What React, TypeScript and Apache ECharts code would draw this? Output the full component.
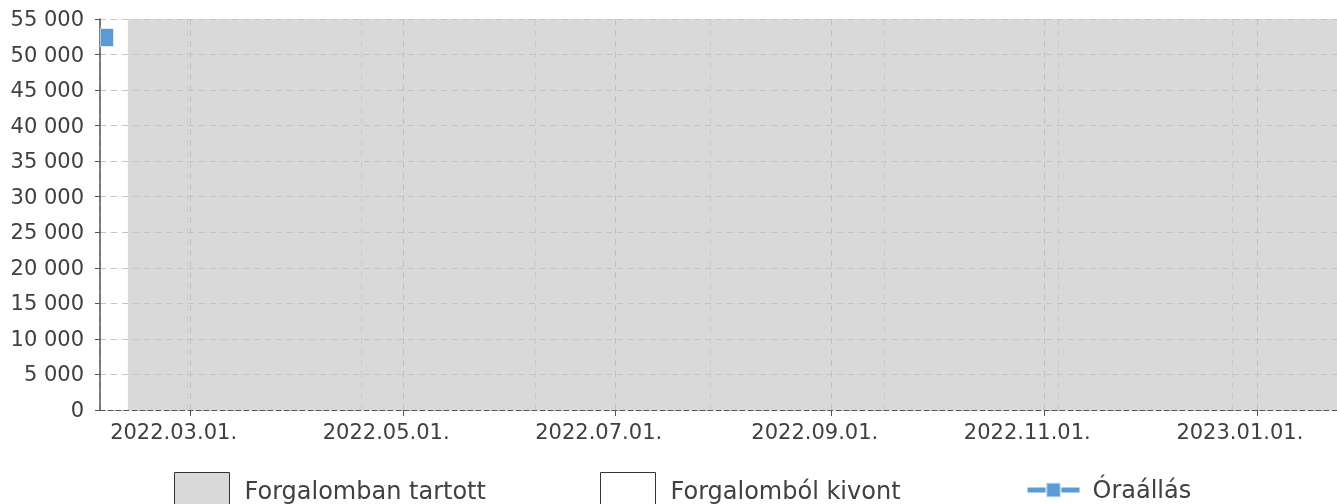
import React, { useEffect, useRef } from "react";
import * as echarts from "echarts";

// ---- data ----
const xRange = ["2022-02-03", "2023-01-24"];
const inServicePeriod = ["2022-02-11", "2023-01-24"];
const inServiceLevel = 55000;
const odometerDates = ["2022-02-05"];
const odometerValues = [52400];
const faintGridDates = ["2022-02-28", "2022-04-19", "2022-06-08", "2022-07-28", "2022-09-16", "2022-11-05", "2022-12-25"];
const yTicks = { min: 0, max: 55000, interval: 5000 };
const legendNames = ["Forgalomban tartott", "Forgalomból kivont", "Óraállás"];

const FONT = "DejaVu Sans";
const TEXT = "#404040";

function fmtDate(v: number) {
  const d = new Date(v);
  const p = (n: number) => String(n).padStart(2, "0");
  return `${d.getFullYear()}.${p(d.getMonth() + 1)}.${p(d.getDate())}.`;
}
function fmtNum(v: number) {
  return String(v).replace(/\B(?=(\d{3})+(?!\d))/g, " ");
}

export default function App() {
  const ref = useRef<HTMLDivElement>(null);
  useEffect(() => {
    if (!ref.current) return;
    const chart = echarts.init(ref.current, null, { renderer: "svg" });
    const DAY = 86400000;
    chart.setOption({
      animation: false,
      grid: { left: 100, right: 0, top: 19, bottom: 94, containLabel: false },
      xAxis: {
        type: "time",
        min: xRange[0],
        max: xRange[1],
        minInterval: 65 * DAY,
        maxInterval: 65 * DAY,
        axisLine: { show: true, lineStyle: { color: "#555", type: [5, 3], width: 1 } },
        axisTick: { show: true, length: 6, lineStyle: { color: "#555" } },
        axisLabel: {
          formatter: (v: number) => fmtDate(v),
          fontFamily: FONT,
          fontSize: 21,
          color: TEXT,
          margin: 11,
          padding: [0, 34, 0, 0],
          showMinLabel: false,
          showMaxLabel: false,
        },
        splitLine: { show: true, lineStyle: { color: "#c0c0c0", type: [6, 5], width: 1 } },
      },
      yAxis: {
        type: "value",
        min: yTicks.min,
        max: yTicks.max,
        interval: yTicks.interval,
        axisLine: { show: true, lineStyle: { color: "#555", width: 1.5 } },
        axisTick: { show: true, length: 5, lineStyle: { color: "#555" } },
        axisLabel: {
          formatter: (v: number) => fmtNum(v),
          fontFamily: FONT,
          fontSize: 21,
          color: TEXT,
          margin: 16,
        },
        splitLine: { show: true, lineStyle: { color: "#c4c4c4", type: [6, 5], width: 1 } },
      },
      legend: [
        {
          data: [{ name: legendNames[0], icon: "rect", itemStyle: { color: "#d9d9d9", borderColor: "#333", borderWidth: 1 } }],
          left: 174, top: 472, padding: 0, itemWidth: 55, itemHeight: 36,
          textStyle: { fontFamily: FONT, fontSize: 24, color: TEXT, padding: [0, 0, 0, 10] },
          selectedMode: false,
        },
        {
          data: [{ name: legendNames[1], icon: "rect", itemStyle: { color: "#ffffff", borderColor: "#333", borderWidth: 1 } }],
          left: 600, top: 472, padding: 0, itemWidth: 55, itemHeight: 36,
          textStyle: { fontFamily: FONT, fontSize: 24, color: TEXT, padding: [0, 0, 0, 10] },
          selectedMode: false,
        },
        {
          data: [{ name: legendNames[2] }],
          left: 1025, top: 478, padding: 0, itemWidth: 52, itemHeight: 18,
          lineStyle: { width: 5 },
          textStyle: { fontFamily: FONT, fontSize: 24, color: TEXT, padding: [0, 0, 0, 8] },
          selectedMode: false,
        },
      ],
      series: [
        {
          name: legendNames[0],
          type: "line",
          z: -1,
          data: inServicePeriod.map((d) => [d, inServiceLevel]),
          symbol: "none",
          lineStyle: { width: 0 },
          areaStyle: { color: "#d9d9d9", opacity: 1 },
          itemStyle: { color: "#d9d9d9" },
          silent: true,
        },
        {
          name: legendNames[1],
          type: "line",
          data: [],
          itemStyle: { color: "#ffffff" },
          markLine: {
            silent: true,
            symbol: "none",
            label: { show: false },
            lineStyle: { color: "#cbcbcb", type: [6, 5], width: 1 },
            data: faintGridDates.map((d) => ({ xAxis: d })),
          },
        },
        {
          name: legendNames[2],
          type: "line",
          data: odometerDates.map((d, i) => [d, odometerValues[i]]),
          symbol: "rect",
          symbolSize: [13, 18],
          lineStyle: { width: 5, color: "#5b9bd5" },
          itemStyle: { color: "#5b9bd5", borderColor: "rgba(255,255,255,0.6)", borderWidth: 1 },
          z: 5,
        },
      ],
    });
    return () => chart.dispose();
  }, []);
  return <div ref={ref} style={{ position: "fixed", left: 0, top: 0, width: 1337, height: 504 }} />;
}
